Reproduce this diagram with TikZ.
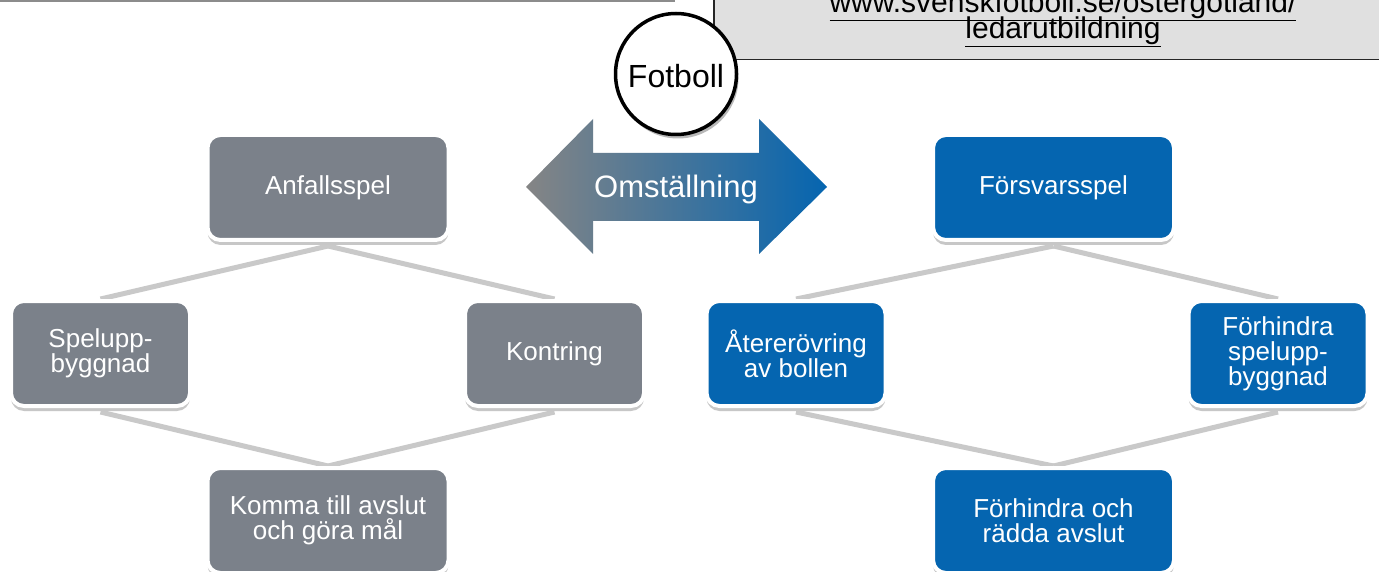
\documentclass[tikz,border=0pt]{standalone}
\usepackage{fontspec}
\setmainfont{Liberation Sans}
\usetikzlibrary{shadows,calc,backgrounds}
\definecolor{boxgray}{HTML}{7B818A}
\definecolor{boxblue}{HTML}{0565B0}
\definecolor{arrowgray}{HTML}{858585}
\definecolor{conngray}{HTML}{C9C9C9}
\definecolor{urlbg}{HTML}{E0E0E0}
\definecolor{topline}{HTML}{8C8C8C}
\begin{document}
\begin{tikzpicture}[x=1pt,y=-1pt,
 tbox/.style={rounded corners=13pt, draw=white, line width=4pt, text=white,
   font=\fontsize{26}{25}\selectfont, align=center, minimum height=105pt, inner sep=0pt,
   drop shadow={shadow xshift=0pt, shadow yshift=-5pt, fill=black!22, opacity=1}},
 wide/.style={tbox, minimum width=241pt},
 narrow/.style={tbox, minimum width=179pt},
 graybox/.style={fill=boxgray},
 bluebox/.style={fill=boxblue},
 conn/.style={draw=conngray, line width=5pt},
 urltext/.style={font=\fontsize{30}{26}\selectfont, anchor=base, inner sep=0pt}]
\useasboundingbox (0,0) rectangle (1379,572);
\clip (0,0) rectangle (1379,572);

% top-left line
\draw[topline, line width=2pt] (0,1) -- (675,1);

% url box
\node[draw=black!85, line width=1.5pt, fill=urlbg, minimum width=690pt, minimum height=70pt,
  anchor=north west, inner sep=0pt] (urlbox) at (713,-11) {};
\node[urltext] (url1) at (1063,13) {\underline{www.svenskfotboll.se/ostergotland/}};
\node[urltext] (url2) at (1063,39) {\underline{ledarutbildning}};

% Fotboll circle
\node[circle, draw=black, line width=3.5pt, fill=white, minimum size=121pt, inner sep=0pt,
  drop shadow={shadow xshift=2pt, shadow yshift=-4pt, fill=black!28, opacity=1}] (fb) at (676,74) {};
\node[font=\fontsize{32}{32}\selectfont, anchor=base, inner sep=0pt] (fbtext) at (676,88) {Fotboll};

% double arrow
\shade[left color=arrowgray, right color=boxblue]
  (526,187) -- (593,119) -- (593,153) -- (759,153) -- (759,119) -- (827,187)
  -- (759,254) -- (759,221) -- (593,221) -- (593,254) -- cycle;
\node[font=\fontsize{31}{31}\selectfont, text=white, anchor=base, inner sep=0pt] (oms) at (676,198) {Omställning};

% left group
\node[wide,graybox] (anf) at (328,187.5) {Anfallsspel};
\node[narrow,graybox] (spel) at (100.5,353.5) {Spelupp-\\byggnad};
\node[narrow,graybox] (kont) at (554.5,353.5) {Kontring};
\node[wide,graybox] (komma) at (328,520.5) {Komma till avslut\\och göra mål};

% right group
\node[wide,bluebox] (forsv) at (1053.5,187.5) {Försvarsspel};
\node[narrow,bluebox] (ater) at (796,353.5) {Återerövring\\av bollen};
\node[narrow,bluebox] (fhsp) at (1278,353.5) {Förhindra\\spelupp-\\byggnad};
\node[wide,bluebox] (fhra) at (1053.5,520.5) {Förhindra och\\rädda avslut};

\begin{scope}[on background layer]
\fill[white] (0,0) rectangle (1379,572);
\draw[conn] ($(anf.south)+(0,4)$) -- (spel.north);
\draw[conn] ($(anf.south)+(0,4)$) -- (kont.north);
\draw[conn] ($(spel.south)+(0,4)$) -- (komma.north);
\draw[conn] ($(kont.south)+(0,4)$) -- (komma.north);
\draw[conn] ($(forsv.south)+(0,4)$) -- (ater.north);
\draw[conn] ($(forsv.south)+(0,4)$) -- (fhsp.north);
\draw[conn] ($(ater.south)+(0,4)$) -- (fhra.north);
\draw[conn] ($(fhsp.south)+(0,4)$) -- (fhra.north);
\end{scope}
\end{tikzpicture}
\end{document}
